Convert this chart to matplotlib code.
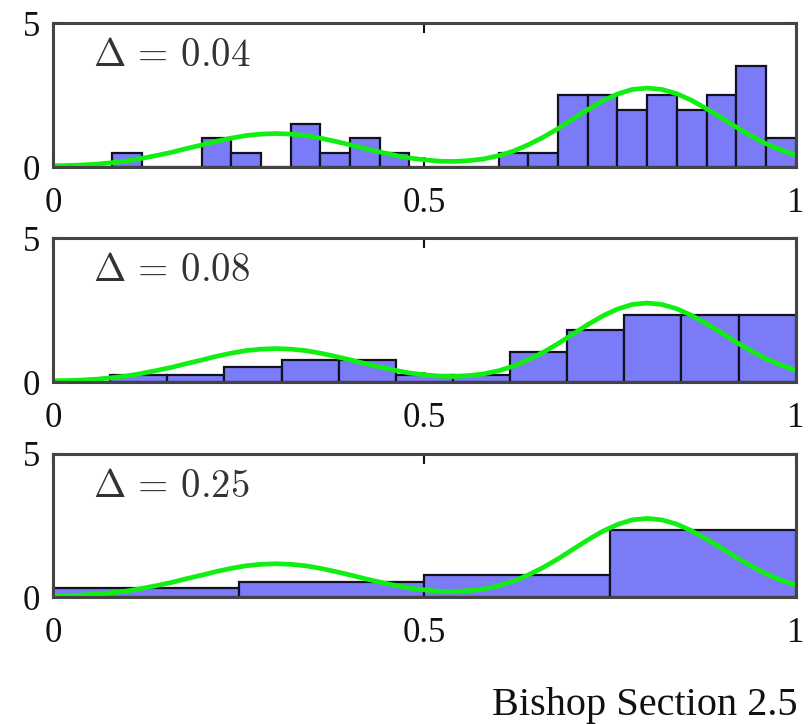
import numpy as np
import matplotlib
matplotlib.use('Agg')
import matplotlib.pyplot as plt

# Histogram bar heights (density)
deltas = ['0.04', '0.08', '0.25']
heights_004 = [0, 0, 0.5, 0, 0, 1.0, 0.5, 0, 1.5, 0.5, 1.0, 0.5, 0,
               0, 0, 0.5, 0.5, 2.5, 2.5, 2.0, 2.5, 2.0, 2.5, 3.5, 1.0]
heights_008 = [0, 0.26, 0.26, 0.52, 0.78, 0.78, 0.26, 0.26, 1.04,
               1.82, 2.34, 2.34, 2.34]
heights_025 = [0.33, 0.52, 0.78, 2.34]

# Green density curve, sampled every 0.02
curve_x = [i / 50 for i in range(51)]
curve_y = [0.05, 0.06, 0.08, 0.11, 0.16, 0.22, 0.31, 0.41, 0.52, 0.65,
           0.77, 0.90, 1.01, 1.10, 1.15, 1.17, 1.15, 1.10, 1.01, 0.90,
           0.78, 0.65, 0.53, 0.42, 0.32, 0.26, 0.21, 0.20, 0.23, 0.29,
           0.40, 0.56, 0.78, 1.04, 1.34, 1.67, 2.00, 2.30, 2.54, 2.70,
           2.75, 2.70, 2.55, 2.32, 2.03, 1.72, 1.39, 1.09, 0.82, 0.60,
           0.42]

xticks = [0, 0.5, 1]
xticklabels = ['0', '0.5', '1']
yticks = [0, 5]
yticklabels = ['0', '5']

serif = 'Liberation Serif'
plt.rcParams['mathtext.fontset'] = 'cm'

fig = plt.figure(figsize=(8.09, 7.24), dpi=100)

# axes boxes [left, bottom, width, height] in figure fraction
boxes = [
    [0.0655, 0.769, 0.918, 0.199],
    [0.0655, 0.472, 0.918, 0.199],
    [0.0655, 0.175, 0.918, 0.198],
]

for box, d, heights in zip(boxes, deltas, [heights_004, heights_008, heights_025]):
    ax = fig.add_axes(box)
    n = len(heights)
    edges = np.linspace(0, 1, n + 1)
    ax.bar(edges[:-1], heights, width=np.diff(edges), align='edge',
           color='#7b7bf8', edgecolor='#111122', linewidth=1.6, zorder=2)
    ax.plot(curve_x, curve_y, color='#11ee11', linewidth=3.4,
            solid_joinstyle='round', zorder=3)
    ax.set_xlim(0, 1)
    ax.set_ylim(0, 5)
    ax.set_xticks(xticks)
    ax.set_xticklabels(xticklabels, fontfamily=serif, fontsize=25)
    ax.set_yticks(yticks)
    ax.set_yticklabels(yticklabels, fontfamily=serif, fontsize=25)
    ax.tick_params(axis='x', direction='in', length=7, width=1.5,
                   top=True, pad=14, colors='#111111')
    ax.tick_params(axis='y', direction='in', length=7, width=1.5,
                   right=True, pad=9, colors='#111111')
    for s in ax.spines.values():
        s.set_color('#444444')
        s.set_linewidth(2.2)
        s.set_zorder(4)
    ax.text(0.054, 0.70, r'$\Delta\,=\,%s$' % d, transform=ax.transAxes,
            fontsize=28, va='baseline', ha='left', color='#333333')

fig.text(0.986, 0.0124, 'Bishop Section 2.5', fontfamily=serif,
         fontsize=29, ha='right', va='baseline', color='#111111')

fig.savefig('out.png', dpi=100)
